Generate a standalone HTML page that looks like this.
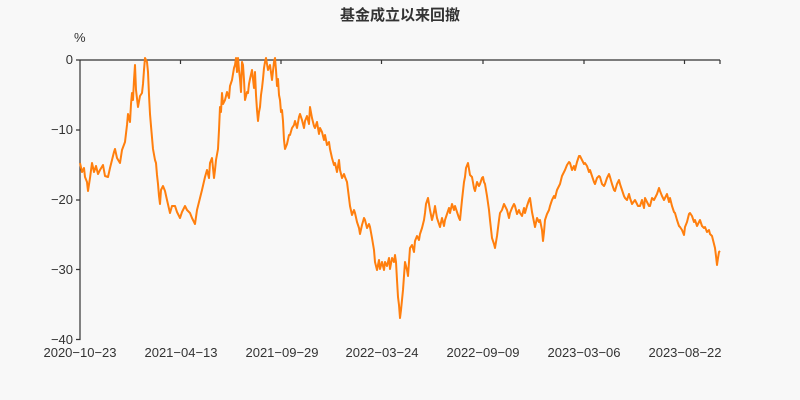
<!DOCTYPE html>
<html><head><meta charset="utf-8"><style>
body{margin:0;background:#f8f8f8;}
svg{display:block;font-family:"Liberation Sans","Noto Sans CJK SC",sans-serif;}
</style></head><body>
<svg width="800" height="400" xmlns="http://www.w3.org/2000/svg">
<rect width="800" height="400" fill="#f8f8f8"/>
<text x="400" y="20" text-anchor="middle" font-size="15" font-weight="bold" fill="#333">基金成立以来回撤</text>
<text x="74" y="42" font-size="13" fill="#333">%</text>
<g stroke="#333" stroke-width="1.2" fill="none">
<path d="M80 60H720"/>
<path d="M80 60V339.5H76M80 60H76M80 130H76M80 200H76M80 269.5H76"/>
<path d="M180.5 60v4M281 60v4M381.5 60v4M483 60v4M584 60v4M684.5 60v4M720 60v4"/>
</g>
<g font-size="13" fill="#333" text-anchor="end">
<text x="73" y="64">0</text><text x="73" y="134">−10</text><text x="73" y="204">−20</text><text x="73" y="274">−30</text><text x="73" y="344">−40</text>
</g>
<g font-size="13" fill="#333" text-anchor="middle">
<text x="80" y="357">2020−10−23</text><text x="181" y="357">2021−04−13</text><text x="282" y="357">2021−09−29</text><text x="382" y="357">2022−03−24</text><text x="483" y="357">2022−09−09</text><text x="584" y="357">2023−03−06</text><text x="685" y="357">2023−08−22</text>
</g>
<polyline fill="none" stroke="#ff7f0e" stroke-width="2" stroke-linejoin="round" points="
80,163 82,172 84,168 85,177 87,182 88,191 90,178 92,163 94,172 96,166 98,174 100,170 103,165 105,176 108,177 110,168 112,160 114,152 115,149 117,158 120,163 122,150 125,142 127,125 128,114 130,122 131,104 132,93 133,100 134,80 135,65 136,90 138,107 140,96 142,93 143,84 144,70 145,58 147,62 148,72 149,95 150,114 151,126 153,149 155,160 156,163 157,175 158,184 159,196 160,204 161,190 163,186 165,191 167,200 170,213 172,206 175,206 177,212 180,218 182,212 185,206 187,210 190,213 192,218 195,224 197,210 200,198 202,190 205,177 207,170 209,178 210,163 212,158 214,178 215,170 216,160 218,149 219,130 220,107 221,112 222,93 223,104 225,100 227,92 229,98 230,86 232,80 234,68 235,65 236,58 237,72 238,58 239,70 240,79 241,92 242,62 243,65 244,80 245,100 247,92 248,93 249,84 250,79 252,70 254,88 255,72 256,95 257,110 258,121 259,112 260,107 261,95 262,88 263,79 264,68 265,62 266,58 268,70 270,65 272,80 274,62 275,58 276,70 277,86 278,79 279,95 280,100 281,112 282,110 283,121 284,140 285,149 287,144 289,135 290,135 292,128 294,125 295,121 297,128 299,117 300,114 302,120 304,128 305,121 307,116 309,124 310,107 312,118 314,126 315,128 317,122 319,134 320,128 322,132 324,140 325,135 327,145 329,142 330,149 332,158 334,165 335,163 337,172 339,160 340,170 342,178 344,174 345,177 347,182 349,198 350,206 352,215 354,210 355,213 357,222 359,228 360,234 362,225 364,218 365,220 367,228 369,224 370,227 372,238 374,250 375,262 377,270 379,260 380,269 382,262 384,270 385,262 387,266 389,258 390,269 392,258 394,262 395,255 396,262 397,280 398,297 399,305 400,318 401,310 402,300 403,290 404,276 405,262 407,270 408,276 409,262 410,248 412,245 414,252 415,241 417,236 419,240 420,234 422,228 424,220 425,213 426,204 428,198 430,210 432,220 434,212 435,206 437,218 439,224 440,227 442,218 444,226 445,220 447,214 449,208 450,213 452,204 454,210 455,206 457,212 459,218 460,220 462,200 464,182 465,177 466,168 468,163 470,175 472,177 474,188 475,191 477,182 479,186 480,184 482,178 483,177 484,182 485,184 487,196 489,210 490,220 492,238 494,244 495,248 497,236 499,220 500,213 502,210 504,204 505,206 507,210 509,218 510,213 512,208 514,204 515,206 517,214 519,210 520,213 522,216 524,208 525,213 527,206 529,200 530,198 532,212 534,222 535,227 537,218 539,222 540,220 542,230 543,241 544,232 545,220 547,214 549,210 550,206 552,200 554,196 555,198 557,190 559,186 560,184 562,176 564,172 565,170 567,165 569,162 570,163 572,170 574,166 575,170 577,162 579,156 580,156 582,160 584,164 585,163 587,166 589,172 590,170 592,176 594,182 595,184 597,178 599,176 600,177 602,184 604,186 605,184 607,178 609,174 610,177 612,184 614,190 615,191 617,184 619,180 620,184 622,190 624,196 625,198 627,200 629,194 630,198 632,204 635,200 638,206 640,206 642,200 644,208 645,198 647,202 649,206 650,206 652,198 654,200 655,198 657,194 659,188 660,191 662,196 664,200 665,198 667,194 669,202 670,198 672,206 674,212 675,213 677,220 679,226 680,227 682,230 684,235 685,227 687,222 689,214 690,213 692,216 694,222 695,220 697,226 699,222 700,220 702,226 704,228 705,227 707,232 709,230 710,234 712,236 714,244 715,248 716,256 717,265 718,258 719,252 720,251"/>
</svg>
</body></html>
